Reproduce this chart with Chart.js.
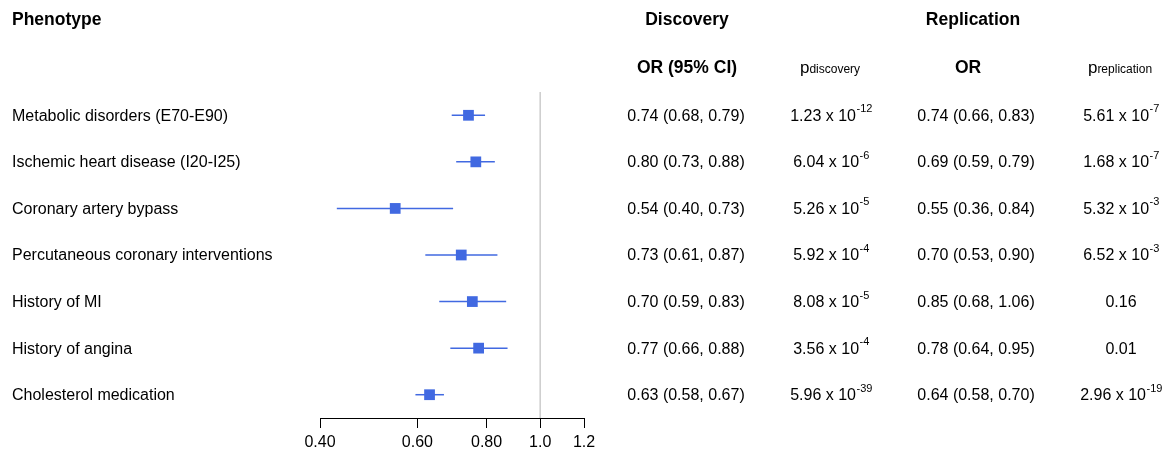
<!DOCTYPE html>
<html>
<head>
<meta charset="utf-8">
<script src="https://cdn.jsdelivr.net/npm/chart.js@4.4.0/dist/chart.umd.min.js"></script>
<style>
  body { margin: 0; background: #fff; }
  #wrap { width: 1162px; height: 454px; }
</style>
</head>
<body>
<div id="wrap"><canvas id="forest"></canvas></div>
<script>
const phenotypes = [
  "Metabolic disorders (E70-E90)",
  "Ischemic heart disease (I20-I25)",
  "Coronary artery bypass",
  "Percutaneous coronary interventions",
  "History of MI",
  "History of angina",
  "Cholesterol medication",
];
// plotted odds ratios and CI ends
const orPlotted = [0.742, 0.765, 0.547, 0.720, 0.754, 0.774, 0.631];
const ciLower = [0.692, 0.705, 0.429, 0.620, 0.657, 0.688, 0.595];
const ciUpper = [0.795, 0.828, 0.696, 0.837, 0.868, 0.873, 0.670];

// table columns
const orDiscoveryText = [
  "0.74 (0.68, 0.79)", "0.80 (0.73, 0.88)", "0.54 (0.40, 0.73)", "0.73 (0.61, 0.87)",
  "0.70 (0.59, 0.83)", "0.77 (0.66, 0.88)", "0.63 (0.58, 0.67)",
];
const pDiscovery = ["1.23e-12", "6.04e-6", "5.26e-5", "5.92e-4", "8.08e-5", "3.56e-4", "5.96e-39"];
const orReplicationText = [
  "0.74 (0.66, 0.83)", "0.69 (0.59, 0.79)", "0.55 (0.36, 0.84)", "0.70 (0.53, 0.90)",
  "0.85 (0.68, 1.06)", "0.78 (0.64, 0.95)", "0.64 (0.58, 0.70)",
];
const pReplication = ["5.61e-7", "1.68e-7", "5.32e-3", "6.52e-3", "0.16", "0.01", "2.96e-19"];

const tickValues = [0.4, 0.6, 0.8, 1.0, 1.2];
const tickLabels = ["0.40", "0.60", "0.80", "1.0", "1.2"];

const FONT = '"Liberation Sans", Arial, Helvetica, sans-serif';
const BLUE = "#4169e1";
Chart.defaults.font.family = FONT;
Chart.defaults.color = "#000";

// p-value like "1.23e-12" -> "1.23 x 10" with raised exponent
function drawP(ctx, text, x, y) {
  ctx.textBaseline = "middle";
  const parts = text.split("e");
  ctx.font = "16px " + FONT;
  if (parts.length === 1) {
    ctx.textAlign = "center";
    ctx.fillText(text, x, y);
    return;
  }
  const base = parts[0] + " x 10";
  const w1 = ctx.measureText(base).width;
  ctx.font = "11px " + FONT;
  const w2 = ctx.measureText(parts[1]).width;
  const x0 = x - (w1 + w2) / 2;
  ctx.textAlign = "left";
  ctx.font = "16px " + FONT;
  ctx.fillText(base, x0, y);
  ctx.font = "11px " + FONT;
  ctx.fillText(parts[1], x0 + w1 + 0.5, y - 7);
}

function drawSubHeader(ctx, main, sub, x, y) {
  ctx.textBaseline = "middle";
  ctx.textAlign = "left";
  ctx.font = "17px " + FONT;
  const w1 = ctx.measureText(main).width;
  ctx.font = "12px " + FONT;
  const w2 = ctx.measureText(sub).width;
  const x0 = x - (w1 + w2) / 2;
  ctx.font = "17px " + FONT;
  ctx.fillText(main, x0, y);
  ctx.font = "12px " + FONT;
  ctx.fillText(sub, x0 + w1, y + 2);
}

const tablePlugin = {
  id: "table",
  afterDraw(chart) {
    const ctx = chart.ctx;
    const yScale = chart.scales.y;
    ctx.save();
    ctx.fillStyle = "#000";
    ctx.textBaseline = "middle";

    ctx.font = "bold 17.5px " + FONT;
    ctx.textAlign = "left";
    ctx.fillText("Phenotype", 12, 20);
    ctx.textAlign = "center";
    ctx.fillText("Discovery", 687, 20);
    ctx.fillText("Replication", 973, 20);
    ctx.fillText("OR (95% CI)", 687, 68);
    ctx.fillText("OR", 968, 68);
    drawSubHeader(ctx, "p", "discovery", 830, 68);
    drawSubHeader(ctx, "p", "replication", 1120, 68);

    phenotypes.forEach((name, i) => {
      const y = yScale.getPixelForValue(i) + 1;
      ctx.font = "16px " + FONT;
      ctx.textAlign = "left";
      ctx.fillText(name, 12, y);
      ctx.textAlign = "center";
      ctx.fillText(orDiscoveryText[i], 686, y);
      ctx.fillText(orReplicationText[i], 976, y);
      drawP(ctx, pDiscovery[i], 831, y);
      drawP(ctx, pReplication[i], 1121, y);
    });
    ctx.restore();
  },
};

const ciSets = phenotypes.map((p, i) => ({
  type: "line",
  data: [{ x: ciLower[i], y: i }, { x: ciUpper[i], y: i }],
  borderColor: BLUE,
  borderWidth: 1.5,
  pointRadius: 0,
  order: 2,
}));

const config = {
  type: "scatter",
  data: {
    datasets: [
      {
        type: "line",
        data: [{ x: 1, y: -0.5 }, { x: 1, y: 6.5 }],
        borderColor: "#cccccc",
        borderWidth: 1.5,
        pointRadius: 0,
        order: 3,
      },
      ...ciSets,
      {
        data: orPlotted.map((v, i) => ({ x: v, y: i })),
        pointStyle: "rect",
        pointRadius: 7.6,
        backgroundColor: BLUE,
        borderWidth: 0,
        order: 1,
      },
    ],
  },
  options: {
    responsive: true,
    maintainAspectRatio: false,
    animation: false,
    layout: { padding: { left: 320, right: 578, top: 92, bottom: 0 } },
    plugins: { legend: { display: false }, tooltip: { enabled: false } },
    scales: {
      x: {
        type: "logarithmic",
        min: 0.4,
        max: 1.2,
        afterBuildTicks: (scale) => {
          scale.ticks = tickValues.map((v) => ({ value: v }));
        },
        afterFit: (scale) => {
          scale.height = 36;
        },
        ticks: {
          autoSkip: false,
          maxRotation: 0,
          padding: 5,
          font: { size: 16 },
          color: "#000",
          callback: (v, i) => tickLabels[i],
        },
        grid: {
          display: true,
          drawOnChartArea: false,
          drawTicks: true,
          tickLength: 10,
          color: "#000",
          lineWidth: 1,
        },
        border: { display: true, color: "#000", width: 1 },
      },
      y: {
        type: "linear",
        min: -0.5,
        max: 6.5,
        reverse: true,
        display: false,
      },
    },
  },
  plugins: [tablePlugin],
};

const forestChart = new Chart(document.getElementById("forest"), config);
</script>
</body>
</html>
